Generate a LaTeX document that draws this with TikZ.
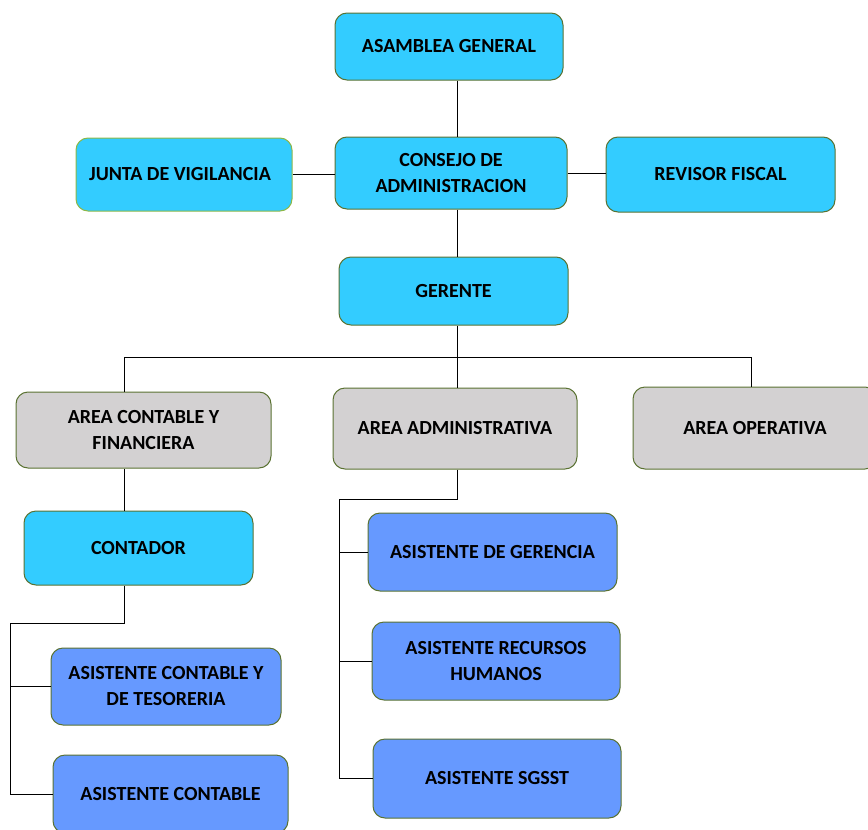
\documentclass[tikz,border=0pt]{standalone}
\usepackage{fontspec}
\setmainfont{Carlito}
\usetikzlibrary{positioning}
\definecolor{cielo}{HTML}{33CCFF}
\definecolor{azul}{HTML}{6699FF}
\definecolor{gris}{HTML}{D3D1D2}
\definecolor{borde}{HTML}{5A7232}
\definecolor{bordeclaro}{HTML}{8DB848}

\begin{document}
\begin{tikzpicture}[
    x=1pt, y=-1pt,
    caja/.style={draw=borde, line width=1pt, rounded corners=12pt, align=center,
        inner sep=0pt, font=\fontsize{20}{26}\selectfont\bfseries},
    dir/.style={caja, fill=cielo},
    area/.style={caja, fill=gris},
    asis/.style={caja, fill=azul},
    linea/.style={line width=0.9pt}
]
    \useasboundingbox (0,0) rectangle (868,830);

    % direccion
    \node[dir, minimum width=228pt, minimum height=67pt] (asamblea) at (449,46.5) {ASAMBLEA GENERAL};
    \node[dir, minimum width=232pt, minimum height=72pt] (consejo) at (451,173) {CONSEJO DE\\ADMINISTRACION};
    \node[dir, draw=bordeclaro, minimum width=216pt, minimum height=73pt] (junta) at (184,174.5) {JUNTA DE VIGILANCIA\hspace{8pt}};
    \node[dir, minimum width=229pt, minimum height=75pt] (revisor) at (720.5,174.5) {REVISOR FISCAL};
    \node[dir, minimum width=229pt, minimum height=68pt] (gerente) at (453.5,291) {GERENTE};

    % areas
    \node[area, minimum width=255pt, minimum height=76pt] (contable) at (143.5,430) {AREA CONTABLE Y\\FINANCIERA};
    \node[area, minimum width=244pt, minimum height=81pt] (admin) at (455,428.5) {AREA ADMINISTRATIVA};
    \node[area, minimum width=244pt, minimum height=82pt] (operativa) at (755,428) {AREA OPERATIVA};

    % cargos
    \node[dir, minimum width=229pt, minimum height=74pt] (contador) at (138.5,548) {CONTADOR};
    \node[asis, minimum width=230pt, minimum height=77pt] (tesoreria) at (166,686.5) {ASISTENTE CONTABLE Y\\DE TESORERIA};
    \node[asis, minimum width=235pt, minimum height=78pt] (asiscont) at (170.5,794) {ASISTENTE CONTABLE};
    \node[asis, minimum width=249pt, minimum height=78pt] (asisger) at (492.5,552) {ASISTENTE DE GERENCIA};
    \node[asis, minimum width=248pt, minimum height=78pt] (rrhh) at (496,661) {ASISTENTE RECURSOS\\HUMANOS};
    \node[asis, minimum width=248pt, minimum height=79pt] (sgsst) at (497,778.5) {ASISTENTE SGSST};

    % conexiones
    \coordinate (eje) at (457,357);
    \coordinate (izq) at (124,357);
    \coordinate (der) at (751,357);
    \coordinate (ramaC) at (10,623);
    \coordinate (ramaA) at (339,499);

    \draw[linea] (asamblea.south -| eje) -- (consejo.north -| eje);
    \draw[linea] (consejo.south -| eje) -- (gerente.north -| eje);
    \draw[linea] (junta.east) -- (consejo.west |- junta.east);
    \draw[linea] (consejo.east) -- (revisor.west |- consejo.east);
    \draw[linea] (gerente.south -| eje) -- (eje);
    \draw[linea] (izq) -- (der);
    \draw[linea] (izq) -- (contable.north -| izq);
    \draw[linea] (eje) -- (admin.north -| eje);
    \draw[linea] (der) -- (operativa.north -| der);

    \draw[linea] (contable.south -| izq) -- (contador.north -| izq);
    \draw[linea] (contador.south -| izq) -- (ramaC -| izq) -- (ramaC) -- (ramaC |- asiscont.west) -- (asiscont.west);
    \draw[linea] (ramaC |- tesoreria.west) -- (tesoreria.west);

    \draw[linea] (admin.south -| eje) -- (ramaA -| eje) -- (ramaA) -- (ramaA |- sgsst.west) -- (sgsst.west);
    \draw[linea] (ramaA |- asisger.west) -- (asisger.west);
    \draw[linea] (ramaA |- rrhh.west) -- (rrhh.west);
\end{tikzpicture}
\end{document}
